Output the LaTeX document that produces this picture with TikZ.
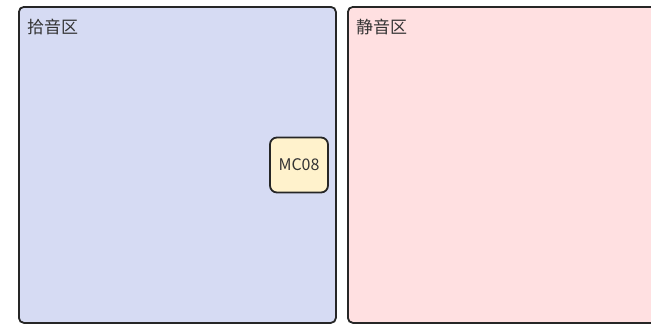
\documentclass[tikz,border=0pt]{standalone}
\usepackage{fontspec}
\setmainfont{Noto Sans CJK SC}
\usetikzlibrary{positioning}
\usepackage{xcolor}

\definecolor{pickup}{HTML}{D6DBF3}
\definecolor{quiet}{HTML}{FFE0E1}
\definecolor{micfill}{HTML}{FFF2CC}
\definecolor{labelgray}{HTML}{333333}

\tikzset{
  zone/.style={draw=black!85, line width=1.8pt, rounded corners=5pt, anchor=north west, inner sep=0pt},
  zonelabel/.style={anchor=base west, inner sep=0pt, font=\fontsize{17}{19}\selectfont, text=labelgray},
  mic/.style={draw=black!85, line width=1.8pt, rounded corners=7pt, fill=micfill, minimum width=58pt, minimum height=55pt, inner sep=0pt, font=\fontsize{16}{18}\selectfont, text=labelgray}
}

\begin{document}
\begin{tikzpicture}[x=1pt, y=-1pt] % pickup / quiet zones

\useasboundingbox (0,0) rectangle (651,324);
\clip (0,0) rectangle (651,324);

%zones
\node[zone, fill=pickup, minimum width=317pt, minimum height=316pt] (pickupzone) at (18,6) {};
\node[zone, fill=quiet, minimum width=330pt, minimum height=316pt] (quietzone) at (347,6) {};

%labels
\node[zonelabel] (pickuplabel) at (27,34) {拾音区};
\node[zonelabel] (quietlabel) at (356,34) {静音区};

%microphone
\node[mic] (mc08) at (299,165) {MC08};

\end{tikzpicture}
\end{document}
